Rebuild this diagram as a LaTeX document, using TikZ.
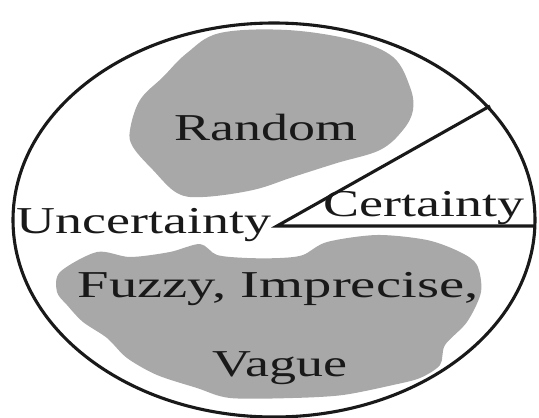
\documentclass[tikz,border=0pt]{standalone}
\usepackage{fontspec}
\setmainfont{Liberation Serif}
\usetikzlibrary{shapes.geometric}
\definecolor{blobgray}{RGB}{168,168,168}
\tikzset{
  blob/.style={fill=blobgray, draw=none},
  edge/.style={line width=3.1pt, black!90},
  lbl/.style={anchor=base, inner sep=0pt, font=\fontsize{38}{40}\selectfont, text=black!90, xscale=1.42, transform shape}
}
\begin{document}
\begin{tikzpicture}[x=1pt,y=-1pt]
\useasboundingbox (0,0) rectangle (539,418);
% blobs
\fill[blob] plot[smooth cycle, tension=0.6] coordinates {(220,33) (287,30) (353,40) (393,57) (410,87) (413,110) (403,130) (380,150) (337,163) (293,177) (253,190) (203,197) (177,193) (153,170) (133,147) (130,130) (140,100) (163,77) (187,53)};
\fill[blob] plot[smooth cycle, tension=0.5] coordinates {(60,272) (97,252) (130,257) (170,252) (200,244) (217,255) (247,258) (280,258) (303,255) (327,242) (377,235) (427,240) (460,252) (477,265) (481,292) (467,322) (445,345) (440,365) (420,378) (393,385) (343,395) (293,398) (230,398) (197,388) (157,375) (127,358) (107,338) (83,322) (67,305) (57,292)};
% frame ellipse
\node[ellipse, draw, edge, minimum width=522pt, minimum height=394pt, inner sep=0pt] (frame) at (274,220) {};
% wedge lines
\coordinate (apex) at (277,226);
\coordinate (upend) at (490,106);
\coordinate (rend) at (535,226);
\draw[edge, line join=miter] (upend) -- (apex) -- (rend);
% labels
\node[lbl] (random) at (266,140) {Random};
\node[lbl] (unc) at (144,233) {Uncertainty};
\node[lbl] (cert) at (424,216) {Certainty};
\node[lbl, xscale=1.05] (fuzzy) at (278,297) {Fuzzy, Imprecise,};
\node[lbl] (vague) at (280,376) {Vague};
\end{tikzpicture}
\end{document}
